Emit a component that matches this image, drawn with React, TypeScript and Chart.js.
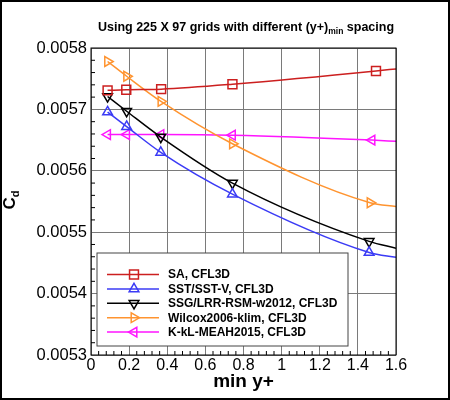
import { useEffect, useRef } from "react"
import { Chart, registerables } from "chart.js"
import { drawPoint } from "chart.js/helpers"

Chart.register(...registerables)

const FONT = "'Liberation Sans', Arial, Helvetica, sans-serif"

// min y+ (last entry = where the fitted curve ends on the right edge)
const saX = [0.087, 0.185, 0.368, 0.742, 1.495, 1.6]
const saCd = [0.005731, 0.005732, 0.005733, 0.005741, 0.0057625, 0.005766]

const sstX = [0.087, 0.187, 0.366, 0.742, 1.459, 1.6]
const sstCd = [0.0056957, 0.005672, 0.00563, 0.005562, 0.005467, 0.005459]

const ssgX = [0.087, 0.187, 0.366, 0.742, 1.459, 1.6]
const ssgCd = [0.005721, 0.005697, 0.005655, 0.00558, 0.005485, 0.005474]

const wilcoxX = [0.087, 0.187, 0.367, 0.742, 1.464, 1.6]
const wilcoxCd = [0.005778, 0.005754, 0.005713, 0.005644, 0.005548, 0.005542]

const kklX = [0.087, 0.187, 0.367, 0.742, 1.474, 1.6]
const kklCd = [0.005659, 0.005659, 0.005659, 0.005658, 0.00565, 0.005648]

const seriesLabels = [
  "SA, CFL3D",
  "SST/SST-V, CFL3D",
  "SSG/LRR-RSM-w2012, CFL3D",
  "Wilcox2006-klim, CFL3D",
  "K-kL-MEAH2015, CFL3D",
]

const titleMain = "Using 225 X 97 grids with different (y+)"
const titleSub = "min"
const titleEnd = " spacing"

function makeSet(
  label: string,
  xs: number[],
  ys: number[],
  color: string,
  style: string,
  rotation: number,
  radius: number
) {
  return {
    label,
    data: xs.map((x, i) => ({ x, y: ys[i] })),
    borderColor: color,
    backgroundColor: "rgba(0,0,0,0)",
    borderWidth: 1.5,
    pointStyle: style,
    pointRotation: rotation,
    pointRadius: xs.map((_, i) => (i === xs.length - 1 ? 0 : radius)),
    pointBorderWidth: 1.5,
    pointBorderColor: color,
    pointBackgroundColor: "rgba(0,0,0,0)",
    cubicInterpolationMode: "monotone",
  }
}

const decor = {
  id: "decor",
  beforeDatasetsDraw(chart: any) {
    const { ctx, chartArea: a, scales } = chart
    ctx.save()
    ctx.strokeStyle = "#000"
    ctx.lineWidth = 1
    // minor ticks, inside the plot
    for (let i = 0; i <= 25; i++) {
      if (i % 5 === 0) continue
      const py = scales.y.getPixelForValue(0.0053 + i * 0.00002)
      ctx.beginPath()
      ctx.moveTo(a.left, py)
      ctx.lineTo(a.left + 4, py)
      ctx.stroke()
    }
    for (let i = 0; i <= 40; i++) {
      if (i % 5 === 0) continue
      const px = scales.x.getPixelForValue(i * 0.04)
      ctx.beginPath()
      ctx.moveTo(px, a.bottom)
      ctx.lineTo(px, a.bottom - 4)
      ctx.stroke()
    }
    ctx.restore()
  },
  afterDraw(chart: any) {
    const { ctx, chartArea: a, width, height } = chart
    ctx.save()

    // plot frame
    ctx.strokeStyle = "#000"
    ctx.lineWidth = 1
    ctx.strokeRect(a.left, a.top, a.right - a.left, a.bottom - a.top)

    // outer frame
    ctx.lineWidth = 2
    ctx.strokeRect(1, 1, width - 2, height - 2)

    // title
    ctx.fillStyle = "#000"
    ctx.textBaseline = "alphabetic"
    const big = `bold 12.5px ${FONT}`
    const small = `bold 8.5px ${FONT}`
    ctx.font = big
    const w1 = ctx.measureText(titleMain).width
    const w3 = ctx.measureText(titleEnd).width
    ctx.font = small
    const w2 = ctx.measureText(titleSub).width
    let tx = 246 - (w1 + w2 + w3) / 2
    const ty = 31
    ctx.font = big
    ctx.textAlign = "left"
    ctx.fillText(titleMain, tx, ty)
    tx += w1
    ctx.font = small
    ctx.fillText(titleSub, tx, ty + 3)
    tx += w2
    ctx.font = big
    ctx.fillText(titleEnd, tx, ty)

    // y axis title C_d
    ctx.save()
    ctx.translate(15, 200)
    ctx.rotate(-Math.PI / 2)
    ctx.font = `bold 17px ${FONT}`
    const wc = ctx.measureText("C").width
    ctx.font = `bold 11px ${FONT}`
    const wd = ctx.measureText("d").width
    const sx = -(wc + wd) / 2
    ctx.font = `bold 17px ${FONT}`
    ctx.fillText("C", sx, 0)
    ctx.font = `bold 11px ${FONT}`
    ctx.fillText("d", sx + wc, 4)
    ctx.restore()

    // x axis title
    ctx.font = `bold 19px ${FONT}`
    ctx.textAlign = "center"
    ctx.textBaseline = "middle"
    ctx.fillText("min y+", (a.left + a.right) / 2, 382)

    // legend
    const bx = a.left + 6
    const by = a.top + 205
    const bw = 251
    const bh = 93
    ctx.fillStyle = "#fff"
    ctx.fillRect(bx, by, bw, bh)
    ctx.strokeStyle = "#444"
    ctx.lineWidth = 1
    ctx.strokeRect(bx, by, bw, bh)
    chart.data.datasets.forEach((ds: any, i: number) => {
      const ry = by + 21.5 + i * 14.4
      ctx.strokeStyle = ds.borderColor
      ctx.lineWidth = 1.5
      ctx.beginPath()
      ctx.moveTo(bx + 10, ry)
      ctx.lineTo(bx + 62, ry)
      ctx.stroke()
      ctx.fillStyle = "rgba(0,0,0,0)"
      drawPoint(
        ctx,
        {
          pointStyle: ds.pointStyle,
          rotation: ds.pointRotation,
          radius: ds.pointRadius[0],
          borderWidth: 1.5,
        },
        bx + 37,
        ry
      )
      ctx.fillStyle = "#000"
      ctx.font = `bold 12px ${FONT}`
      ctx.textAlign = "left"
      ctx.textBaseline = "middle"
      ctx.fillText(ds.label, bx + 71, ry + 0.5)
    })

    ctx.restore()
  },
}

export default function App() {
  const chartRef = useRef<HTMLCanvasElement>(null)
  const chartInstance = useRef<Chart | null>(null)

  useEffect(() => {
    if (!chartRef.current) return
    const ctx = chartRef.current.getContext("2d")
    if (!ctx) return
    if (chartInstance.current) chartInstance.current.destroy()

    chartInstance.current = new Chart(ctx, {
      type: "line",
      data: {
        datasets: [
          makeSet(seriesLabels[0], saX, saCd, "#cc1f1f", "rect", 0, 6.3),
          makeSet(seriesLabels[1], sstX, sstCd, "#3b3bf5", "triangle", 0, 5.6),
          makeSet(seriesLabels[2], ssgX, ssgCd, "#000000", "triangle", 180, 5.6),
          makeSet(seriesLabels[3], wilcoxX, wilcoxCd, "#ff9430", "triangle", 90, 5.6),
          makeSet(seriesLabels[4], kklX, kklCd, "#ff14ff", "triangle", 270, 5.6),
        ] as any,
      },
      options: {
        animation: false,
        responsive: true,
        maintainAspectRatio: false,
        layout: { padding: { left: 0, right: 54, top: 48, bottom: 0 } },
        scales: {
          x: {
            type: "linear",
            min: 0,
            max: 1.6,
            afterFit: (s: any) => {
              s.height = 45
            },
            ticks: {
              stepSize: 0.2,
              padding: 1,
              color: "#000",
              font: { family: FONT, size: 16 },
              maxRotation: 0,
              callback: (v: any) => String(Number(Number(v).toFixed(1))),
            },
            grid: { color: "#7a7a7a", lineWidth: 1, drawTicks: false },
            border: { display: false },
          },
          y: {
            type: "linear",
            min: 0.0053,
            max: 0.0058,
            afterFit: (s: any) => {
              s.width = 91
            },
            ticks: {
              stepSize: 0.0001,
              padding: 4,
              color: "#000",
              font: { family: FONT, size: 16.5 },
              callback: (v: any) => Number(v).toFixed(4),
            },
            grid: { color: "#7a7a7a", lineWidth: 1, drawTicks: false },
            border: { display: false },
          },
        },
        plugins: {
          legend: { display: false },
          tooltip: { enabled: false },
        },
      },
      plugins: [decor],
    })

    return () => {
      if (chartInstance.current) {
        chartInstance.current.destroy()
        chartInstance.current = null
      }
    }
  }, [])

  return (
    <div
      style={{
        position: "fixed",
        top: 0,
        left: 0,
        width: "450px",
        height: "400px",
        background: "#fff",
      }}
    >
      <canvas ref={chartRef}></canvas>
    </div>
  )
}
